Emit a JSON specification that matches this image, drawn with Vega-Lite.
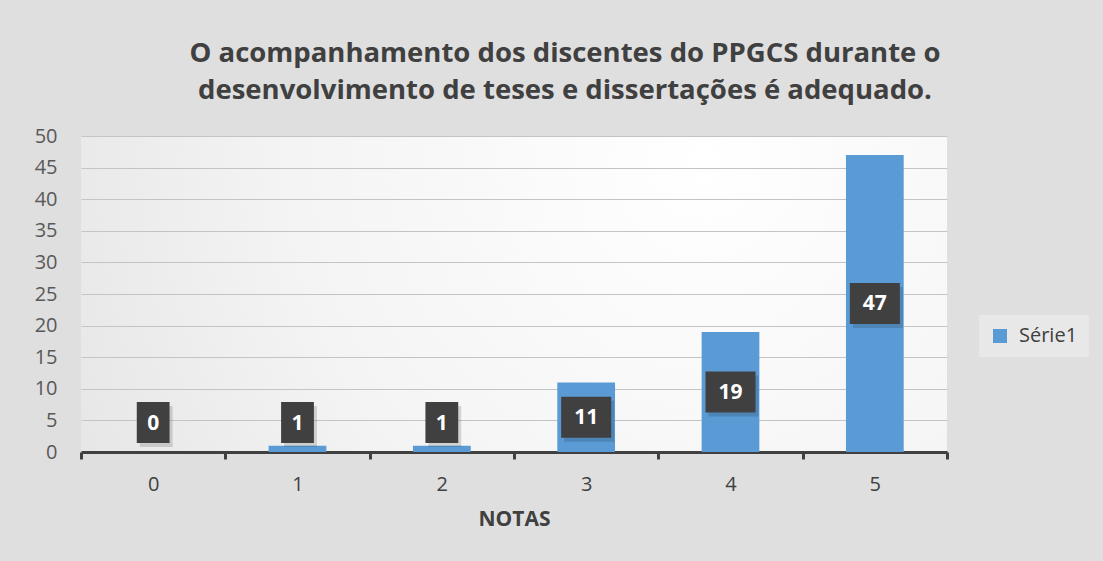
{
  "$schema": "https://vega.github.io/schema/vega-lite/v6.json",
  "width": 866,
  "height": 316,
  "autosize": {"type": "none"},
  "padding": {"left": 81, "top": 136, "right": 156, "bottom": 109},
  "background": "#dfdfdf",
  "data": {
    "values": [
      {"nota": "0", "valor": 0, "serie": "Série1"},
      {"nota": "1", "valor": 1, "serie": "Série1"},
      {"nota": "2", "valor": 1, "serie": "Série1"},
      {"nota": "3", "valor": 11, "serie": "Série1"},
      {"nota": "4", "valor": 19, "serie": "Série1"},
      {"nota": "5", "valor": 47, "serie": "Série1"}
    ]
  },
  "transform": [
    {"calculate": "max(datum.valor / 2, 4.65)", "as": "pos"}
  ],
  "title": {
    "text": ["O acompanhamento dos discentes do PPGCS durante o", "desenvolvimento de teses e dissertações é adequado."],
    "font": "Open Sans",
    "fontSize": 27.5,
    "fontWeight": "bold",
    "color": "#404040",
    "lineHeight": 37,
    "anchor": "middle",
    "dx": 51,
    "offset": 22
  },
  "encoding": {
    "x": {
      "field": "nota",
      "type": "nominal",
      "sort": null,
      "scale": {"paddingInner": 0, "paddingOuter": 0},
      "axis": {
        "title": "NOTAS",
        "titleFont": "Open Sans",
        "titleFontSize": 21,
        "titleFontWeight": "bold",
        "titleColor": "#404040",
        "titlePadding": 14,
        "labelAngle": 0,
        "labelFont": "Open Sans",
        "labelFontSize": 20,
        "labelColor": "#404040",
        "labelPadding": 15,
        "domainColor": "#404040",
        "domainWidth": 3,
        "tickColor": "#404040",
        "tickWidth": 3,
        "tickSize": 7,
        "tickBand": "extent",
        "grid": false
      }
    }
  },
  "layer": [
    {
      "mark": {"type": "bar", "color": "#5B9BD5", "width": {"band": 0.4}},
      "encoding": {
        "y": {
          "field": "valor",
          "type": "quantitative",
          "scale": {"domain": [0, 50], "nice": false},
          "axis": {"title": null, "values": [0, 5, 10, 15, 20, 25, 30, 35, 40, 45, 50]}
        },
        "color": {
          "field": "serie",
          "type": "nominal",
          "scale": {"range": ["#5B9BD5"]},
          "legend": {
            "title": null,
            "orient": "none",
            "legendX": 898,
            "legendY": 179,
            "fillColor": "#e8e8e8",
            "padding": 11,
            "symbolType": "square",
            "symbolSize": 196,
            "symbolStrokeWidth": 0,
            "labelFont": "Open Sans",
            "labelFontSize": 20,
            "labelColor": "#404040",
            "labelOffset": 9
          }
        }
      }
    },
    {
      "mark": {"type": "point", "filled": true, "color": "#000000", "opacity": 0.14, "size": 1681, "xOffset": 3, "yOffset": 4, "strokeWidth": 0},
      "encoding": {
        "y": {"field": "pos", "type": "quantitative", "axis": {"title": null, "values": [0, 5, 10, 15, 20, 25, 30, 35, 40, 45, 50]}},
        "shape": {
          "condition": {"test": "datum.valor >= 10", "value": "M-1.22,-1L1.22,-1L1.22,1L-1.22,1Z"},
          "value": "M-0.8,-1L0.8,-1L0.8,1L-0.8,1Z"
        }
      }
    },
    {
      "mark": {"type": "point", "filled": true, "color": "#404040", "opacity": 1, "size": 1681, "strokeWidth": 0},
      "encoding": {
        "y": {"field": "pos", "type": "quantitative", "axis": {"title": null, "values": [0, 5, 10, 15, 20, 25, 30, 35, 40, 45, 50]}},
        "shape": {
          "condition": {"test": "datum.valor >= 10", "value": "M-1.22,-1L1.22,-1L1.22,1L-1.22,1Z"},
          "value": "M-0.8,-1L0.8,-1L0.8,1L-0.8,1Z"
        }
      }
    },
    {
      "mark": {"type": "text", "color": "#ffffff", "font": "Open Sans", "fontSize": 21, "fontWeight": "bold", "baseline": "middle", "dy": 1},
      "encoding": {
        "y": {"field": "pos", "type": "quantitative", "axis": {"title": null, "values": [0, 5, 10, 15, 20, 25, 30, 35, 40, 45, 50]}},
        "text": {"field": "valor", "type": "quantitative"}
      }
    }
  ],
  "config": {
    "axisY": {
      "labelOverlap": false,
      "domain": false,
      "ticks": false,
      "grid": true,
      "gridColor": "#c4c4c4",
      "gridWidth": 1,
      "labelFont": "Open Sans",
      "labelFontSize": 20,
      "labelColor": "#595959",
      "labelPadding": 24
    },
    "view": {
      "stroke": null,
      "fill": {
        "gradient": "radial",
        "x1": 0.72, "y1": 0.35, "x2": 0.72, "y2": 0.35,
        "r1": 0, "r2": 0.95,
        "stops": [
          {"offset": 0, "color": "#ffffff"},
          {"offset": 0.5, "color": "#f4f4f4"},
          {"offset": 1, "color": "#e0e0e0"}
        ]
      }
    }
  }
}
